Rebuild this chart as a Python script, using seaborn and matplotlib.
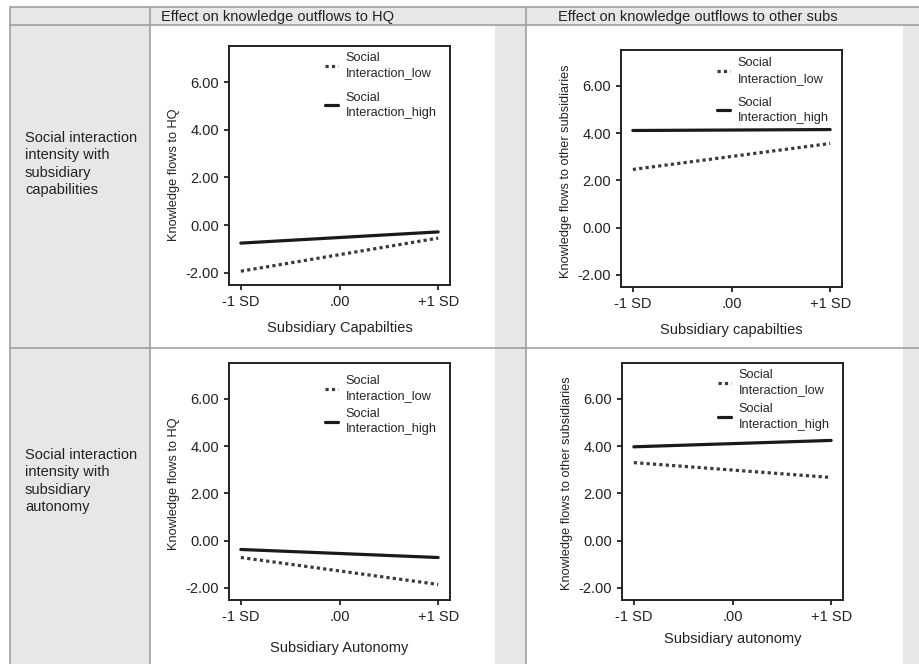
import pandas as pd
import numpy as np
import seaborn as sns
import matplotlib.pyplot as plt
from matplotlib.patches import Rectangle
from matplotlib.lines import Line2D

# Data (values at -1 SD and +1 SD)
sd_levels = [-1, 1]
tick_pos = [-1, 0, 1]
tick_labels = ['-1 SD', '.00', '+1 SD']
y_ticks = [-2, 0, 2, 4, 6]

cap_hq_low = [-1.94, -0.55]
cap_hq_high = [-0.76, -0.29]
cap_subs_low = [2.46, 3.56]
cap_subs_high = [4.11, 4.15]
aut_hq_low = [-0.72, -1.86]
aut_hq_high = [-0.38, -0.72]
aut_subs_low = [3.30, 2.67]
aut_subs_high = [3.97, 4.24]

col_headers = ['Effect on knowledge outflows to HQ', 'Effect on knowledge outflows to other subs']
row_labels = ['Social interaction\nintensity with\nsubsidiary\ncapabilities',
              'Social interaction\nintensity with\nsubsidiary\nautonomy']
legend_labels = ['Social\nInteraction_low', 'Social\nInteraction_high']
y_label_hq = 'Knowledge flows to HQ'
y_label_subs = 'Knowledge flows to other subsidiaries'

sns.set_theme(style='white')
plt.rcParams['font.family'] = ['Liberation Sans', 'DejaVu Sans']

W, H = 919, 664
fig = plt.figure(figsize=(W / 100, H / 100), dpi=100)
fig.patch.set_facecolor('white')

def fx(x):
    return x / W

def fy(y):
    return 1 - y / H

def rect(x0, y0, x1, y1, color):
    fig.patches.append(Rectangle((fx(x0), fy(y1)), fx(x1 - x0), (y1 - y0) / H,
                                 transform=fig.transFigure, facecolor=color,
                                 edgecolor='none', zorder=0))

def hline(y, x0, x1):
    fig.add_artist(Line2D([fx(x0), fx(x1)], [fy(y), fy(y)], color='#9a9a9a', lw=1.1))

def vline(x, y0, y1):
    fig.add_artist(Line2D([fx(x), fx(x)], [fy(y0), fy(y1)], color='#9a9a9a', lw=1.1))

# table background
grey = '#e6e7e7'
rect(10, 7, 919, 25, grey)
rect(10, 25, 150, 664, grey)
rect(495, 25, 526, 664, grey)
rect(903, 25, 919, 664, grey)
hline(7, 10, 919)
hline(25, 10, 919)
hline(348, 10, 919)
vline(10, 7, 664)
vline(150, 7, 664)
vline(526, 7, 664)

fig.text(fx(161), fy(16.5), col_headers[0], ha='left', va='center', fontsize=10.5, color='#222222')
fig.text(fx(558), fy(16.5), col_headers[1], ha='left', va='center', fontsize=10.5, color='#222222')
fig.text(fx(25), fy(131), row_labels[0], ha='left', va='top', fontsize=10.5, color='#222222', linespacing=1.3)
fig.text(fx(25), fy(448), row_labels[1], ha='left', va='top', fontsize=10.5, color='#222222', linespacing=1.3)

panels = [
    (229, 46, 450, 285, cap_hq_low, cap_hq_high, y_label_hq, 'Subsidiary Capabilties', 0.95, 8.5, 0.46, 0.995),
    (621, 50, 842, 287, cap_subs_low, cap_subs_high, y_label_subs, 'Subsidiary capabilties', 0.95, 8.5, 0.49, 0.99),
    (229, 363, 450, 600, aut_hq_low, aut_hq_high, y_label_hq, 'Subsidiary Autonomy', 0.45, 12.5, 0.49, 0.97),
    (622, 363, 843, 600, aut_subs_low, aut_subs_high, y_label_subs, 'Subsidiary autonomy', 0.55, 6.0, 0.494, 0.995),
]

for x0, y0, x1, y1, low, high, ylab, xlab, lspace, xpad, ylab_y, leg_y in panels:
    ax = fig.add_axes([fx(x0), fy(y1), (x1 - x0) / W, (y1 - y0) / H])
    df = pd.DataFrame({
        'sd': sd_levels * 2,
        'value': low + high,
        'group': [legend_labels[0]] * 2 + [legend_labels[1]] * 2,
    })
    sns.lineplot(data=df, x='sd', y='value', hue='group', style='group',
                 palette={legend_labels[0]: '#3a3a3a', legend_labels[1]: '#1a1a1a'},
                 dashes={legend_labels[0]: (1, 1), legend_labels[1]: ''},
                 linewidth=2.3, ax=ax)
    ax.set_xlim(-1.12, 1.12)
    ax.set_ylim(-2.52, 7.52)
    ax.set_xticks(tick_pos)
    ax.set_xticklabels(tick_labels)
    ax.set_yticks(y_ticks)
    ax.set_yticklabels(['%.2f' % v for v in y_ticks])
    ax.tick_params(axis='both', direction='out', length=3.6, width=1.3, pad=3.5,
                   labelsize=10.5, colors='#222222', bottom=True, left=True)
    for sp in ax.spines.values():
        sp.set_color('#222222')
        sp.set_linewidth(1.4)
    ax.set_xlabel(xlab, fontsize=10.5, color='#222222', labelpad=xpad)
    ax.set_ylabel(ylab, fontsize=9.2, color='#222222')
    ax.yaxis.set_label_coords(-0.22, ylab_y)
    handles, labels = ax.get_legend_handles_labels()
    leg = ax.legend(handles, labels, loc='upper left', bbox_to_anchor=(0.41, leg_y),
                    frameon=False, fontsize=9.2, handlelength=1.05, handletextpad=0.6,
                    labelspacing=lspace, borderaxespad=0.2, borderpad=0.2)
    for t in leg.get_texts():
        t.set_linespacing(1.35)

fig.savefig('out.png', dpi=100)
